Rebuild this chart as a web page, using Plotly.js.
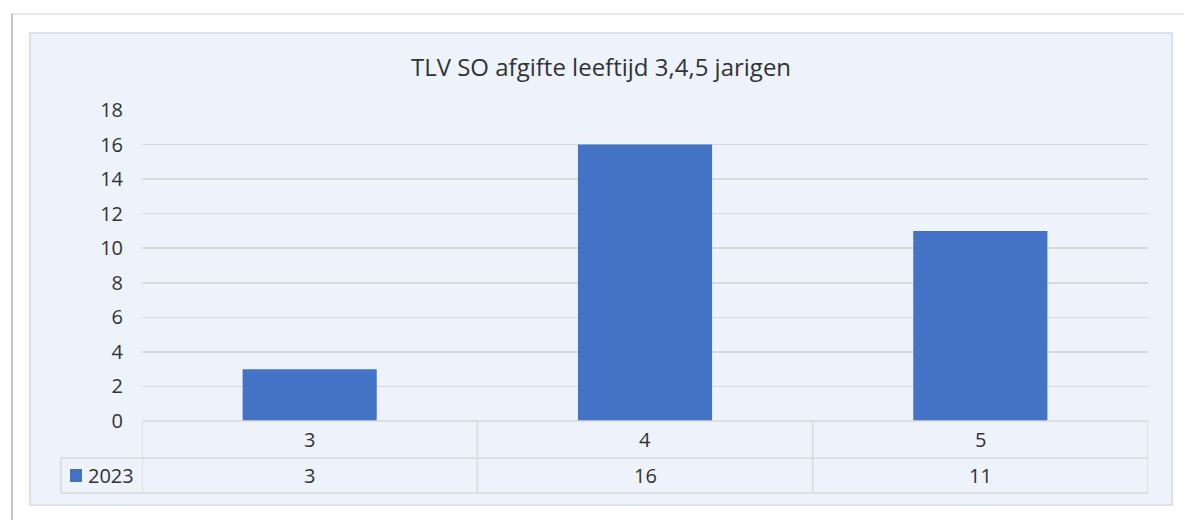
<!DOCTYPE html>
<html>
<head>
<meta charset="utf-8">
<script src="https://cdn.plot.ly/plotly-3.0.1.min.js"></script>
<style>html,body{margin:0;padding:0;background:#fff;}#chart{width:1184px;height:520px;}</style>
</head>
<body>
<div id="chart"></div>
<script>
const chartTitle = "TLV SO afgifte leeftijd 3,4,5 jarigen";
const categories = ["3", "4", "5"];
const seriesName = "2023";
const values = [3, 16, 11];
const yTicks = [0, 2, 4, 6, 8, 10, 12, 14, 16, 18];

const W = 1184, H = 520, L = 142, R = 36, T = 110, B = 99;
const pw = W - L - R, ph = H - T - B;
const fx = px => (px - L) / pw;
const fy = py => (H - B - py) / ph;

const blue = "#4472C4";
const txt = "#333333";
const grid = "#d9d9d9";
const font = "Open Sans";

const shapes = [];
// page decorations
shapes.push({type:"line", xref:"paper", yref:"paper", x0:fx(11), x1:fx(1184), y0:fy(14), y1:fy(14), line:{color:"#e8e8e8", width:2}, layer:"below"});
shapes.push({type:"line", xref:"paper", yref:"paper", x0:fx(12), x1:fx(12), y0:fy(14), y1:fy(520), line:{color:"#c4c4c4", width:2}, layer:"below"});
// chart area
shapes.push({type:"rect", xref:"paper", yref:"paper", x0:fx(30), x1:fx(1172), y0:fy(505), y1:fy(33), fillcolor:"#EEF2FA", line:{color:"#dde0e6", width:2}, layer:"below"});

// data table lines
const row1 = fy(458), row2 = fy(493);
const n = categories.length;
shapes.push({type:"line", xref:"x", yref:"paper", x0:-0.5, x1:n-0.5, y0:0, y1:0, line:{color:grid, width:1.5}});
shapes.push({type:"line", xref:"paper", yref:"paper", x0:fx(61), x1:1, y0:row1, y1:row1, line:{color:grid, width:1.5}});
shapes.push({type:"line", xref:"paper", yref:"paper", x0:fx(61), x1:1, y0:row2, y1:row2, line:{color:grid, width:1.5}});
shapes.push({type:"line", xref:"paper", yref:"paper", x0:fx(61), x1:fx(61), y0:row1, y1:row2, line:{color:grid, width:1.5}});
for (let i = 0; i <= n; i++) {
  shapes.push({type:"line", xref:"x", yref:"paper", x0:i-0.5, x1:i-0.5, y0:0, y1:row2, line:{color:grid, width:1.5}});
}
// legend key
shapes.push({type:"rect", xref:"paper", yref:"paper", x0:fx(70), x1:fx(82), y0:fy(482), y1:fy(469), fillcolor:blue, line:{width:0}});

const annotations = [];
const yr1 = (0 + row1) / 2, yr2 = (row1 + row2) / 2;
categories.forEach((c, i) => {
  annotations.push({x:i, xref:"x", yref:"paper", y:yr1, text:c, showarrow:false, font:{family:font, size:20, color:txt}, yanchor:"middle"});
  annotations.push({x:i, xref:"x", yref:"paper", y:yr2, text:String(values[i]), showarrow:false, font:{family:font, size:20, color:txt}, yanchor:"middle"});
});
annotations.push({x:fx(86), xref:"paper", yref:"paper", y:yr2, xanchor:"left", yanchor:"middle", text:seriesName, showarrow:false, font:{family:font, size:20, color:txt}});

const data = [{
  type:"bar", x:categories, y:values, name:seriesName,
  marker:{color:blue}, width:0.4, hoverinfo:"x+y"
}];

const layout = {
  width:W, height:H,
  margin:{l:L, r:R, t:T, b:B, pad:0},
  paper_bgcolor:"#ffffff",
  plot_bgcolor:"rgba(0,0,0,0)",
  showlegend:false,
  title:{text:chartTitle, x:601/W, xref:"container", xanchor:"center", y:1-68/H, yref:"container", yanchor:"middle", font:{family:font, size:24, color:txt}},
  xaxis:{type:"category", range:[-0.5, n-0.5], showticklabels:false, showgrid:false, zeroline:false, showline:false, ticks:"", fixedrange:true},
  yaxis:{range:[0, 18], tickvals:yTicks, ticktext:yTicks.map(String), showgrid:true, gridcolor:grid, gridwidth:1.5, zeroline:false, showline:false, ticks:"", ticklabelstandoff:18, tickfont:{family:font, size:20, color:txt}, fixedrange:true},
  shapes:shapes,
  annotations:annotations,
  bargap:0.6
};

Plotly.newPlot("chart", data, layout, {displayModeBar:false, staticPlot:true});
</script>
</body>
</html>
